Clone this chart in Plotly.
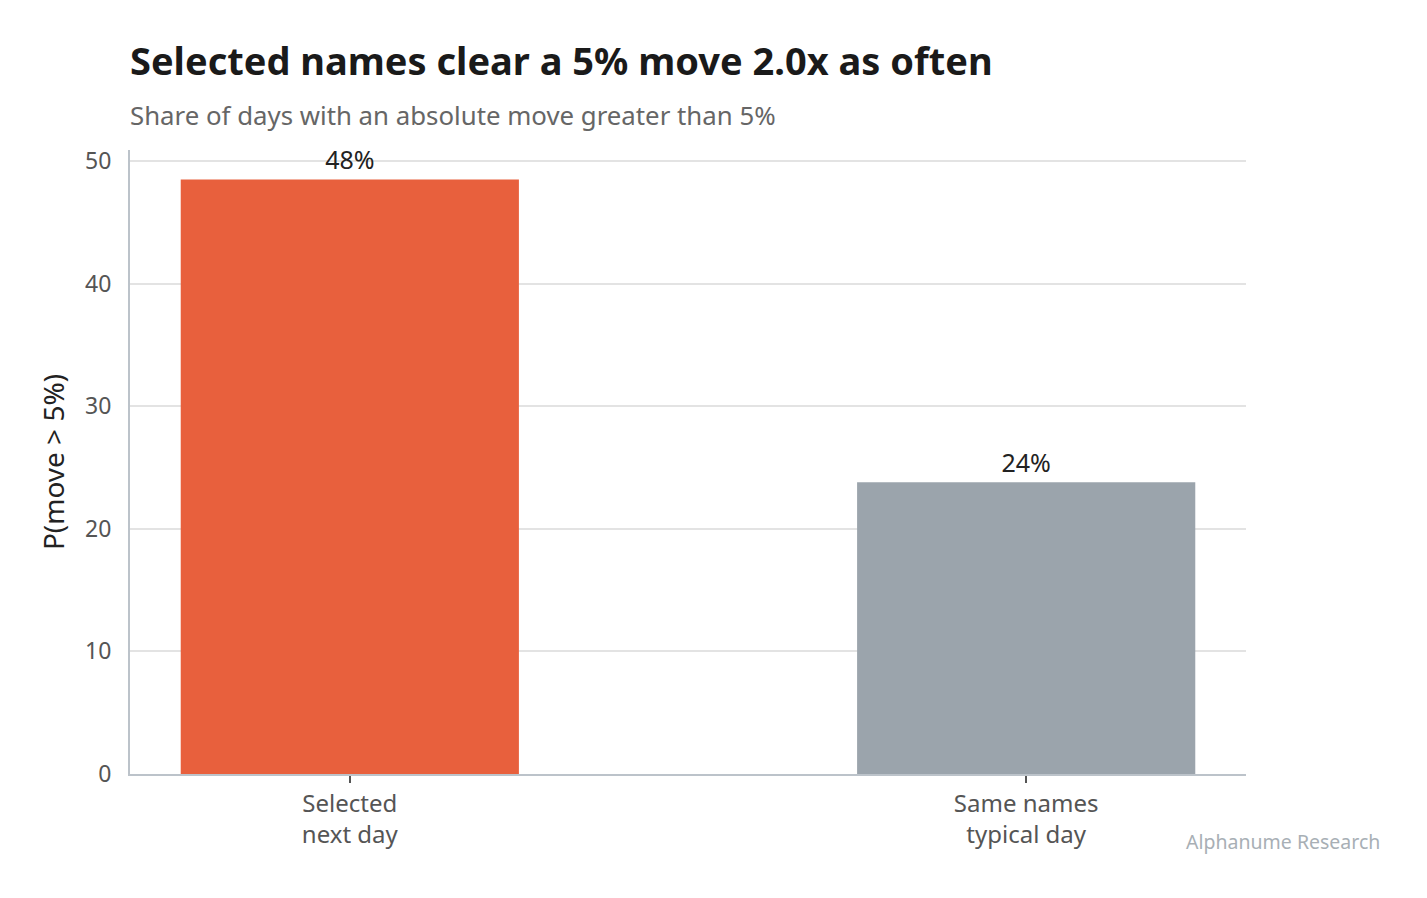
import plotly.graph_objects as go

categories = ["Selected<br>next day", "Same names<br>typical day"]
values = [48.5, 23.8]
labels = ["48%", "24%"]
colors = ["#E8603D", "#9BA4AC"]

FONT = "Noto Sans, Open Sans, sans-serif"

fig = go.Figure(go.Bar(
    x=[0, 1], y=values, width=0.5,
    marker=dict(color=colors, line=dict(width=0)),
    text=labels, textposition="outside", cliponaxis=False,
    constraintext="none",
    textfont=dict(size=25, color="#222222", family=FONT),
))

fig.update_layout(
    width=1427, height=898,
    margin=dict(l=130, r=181, t=150, b=124),
    paper_bgcolor="white", plot_bgcolor="white",
    font=dict(family=FONT, color="#555555"),
    showlegend=False,
    title=dict(text="<b>Selected names clear a 5% move 2.0x as often</b>",
               x=130/1427, xanchor="left", xref="container",
               y=1-62/898, yanchor="middle", yref="container",
               font=dict(size=38, color="#1a1a1a", family=FONT)),
    annotations=[
        dict(text="Share of days with an absolute move greater than 5%",
             xref="paper", yref="paper", x=-2/1116, y=1 + (150-115)/624,
             xanchor="left", yanchor="middle", showarrow=False,
             font=dict(size=25.8, color="#666666", family=FONT)),
        dict(text="Alphanume Research", xref="paper", yref="paper",
             x=(1382-130)/1116, y=-(841-774)/624, xanchor="right", yanchor="middle",
             showarrow=False, font=dict(size=19.5, color="#A8AFB5", family=FONT)),
    ],
)

fig.update_xaxes(
    range=[-0.325, 1.325], tickvals=[0, 1], ticktext=categories,
    showline=True, linecolor="#BCC3CA", linewidth=2,
    ticks="outside", ticklen=7, tickcolor="#555555", tickwidth=2,
    showgrid=False, zeroline=False,
    tickfont=dict(size=24, color="#555555", family=FONT),
)
fig.update_yaxes(
    range=[0, 50.9], tickvals=[0, 10, 20, 30, 40, 50],
    showline=True, linecolor="#BCC3CA", linewidth=2,
    showgrid=True, gridcolor="#E3E3E3", gridwidth=1.5,
    zeroline=False, ticks="", ticklabelstandoff=12,
    tickfont=dict(size=23, color="#555555", family=FONT),
    title=dict(text="P(move > 5%)", font=dict(size=28, color="#222222", family=FONT), standoff=12),
)

fig.write_html("out.html")
